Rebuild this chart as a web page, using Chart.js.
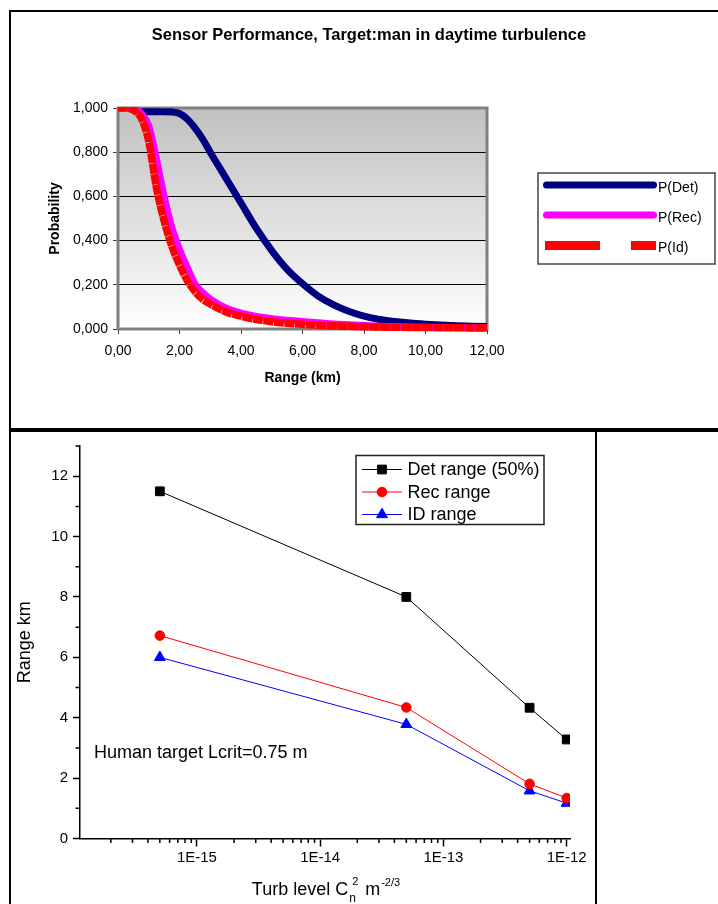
<!DOCTYPE html>
<html>
<head>
<meta charset="utf-8">
<script src="https://cdn.jsdelivr.net/npm/chart.js@4.4.1/dist/chart.umd.min.js"></script>
<style>
html,body{margin:0;padding:0;background:#fff;width:718px;height:904px;overflow:hidden;position:relative;}
#f1{position:absolute;left:9px;top:10px;width:720px;height:422px;border:2px solid #000;border-bottom-width:4px;box-sizing:border-box;}
#f2{position:absolute;left:9px;top:432px;width:588px;height:490px;border:2px solid #000;border-top:none;box-sizing:border-box;}
#c1{position:absolute;left:11px;top:12px;}
#c2{position:absolute;left:11px;top:432px;}
</style>
</head>
<body>
<div id="f1"></div>
<div id="f2"></div>
<canvas id="c1" width="707" height="416"></canvas>
<canvas id="c2" width="583" height="472"></canvas>
<script>
// ===== Top chart data =====
const rangeKm = [0,0.25,0.5,0.75,1,1.25,1.5,1.75,2,2.25,2.5,2.75,3,3.5,4,4.5,5,5.5,6,6.5,7,7.5,8,8.5,9,9.5,10,10.5,11,11.5,12];
const pDet = [null,null,null,0.983,0.983,0.983,0.983,0.982,0.975,0.95,0.91,0.86,0.80,0.685,0.57,0.455,0.355,0.27,0.205,0.15,0.11,0.08,0.058,0.043,0.034,0.027,0.022,0.018,0.015,0.013,0.011];
const pRec = [1.0,1.0,0.998,0.975,0.92,0.77,0.60,0.46,0.36,0.28,0.205,0.165,0.135,0.095,0.072,0.057,0.047,0.040,0.034,0.028,0.023,0.019,0.016,0.013,0.011,0.009,0.008,0.007,0.006,0.0055,0.005];
const pId = [1.0,1.0,0.99,0.955,0.85,0.64,0.49,0.375,0.29,0.22,0.17,0.135,0.113,0.078,0.058,0.043,0.033,0.026,0.021,0.017,0.014,0.012,0.010,0.009,0.008,0.007,0.0065,0.006,0.0055,0.005,0.005];
const probTicks = [0,0.2,0.4,0.6,0.8,1.0];
const rangeTicks = [0,2,4,6,8,10,12];

// ===== Bottom chart data =====
const turbLevel = [5e-16, 5e-14, 5e-13, 1e-12];
const detRange = [11.5, 8.0, 4.33, 3.28];
const recRange = [6.72, 4.34, 1.81, 1.34];
const idRange = [6.0, 3.78, 1.58, 1.17];
const xMajor = [1e-15, 1e-14, 1e-13, 1e-12];
const xMajorLabels = ['1E-15','1E-14','1E-13','1E-12'];
const yMajor = [0,2,4,6,8,10,12];
const yMinor = [1,3,5,7,9,11,13];

const FONT = '"Liberation Sans", Arial, Helvetica, sans-serif';
Chart.defaults.font.family = FONT;
Chart.defaults.color = '#000';

// ---------- Top chart ----------
const plotBg = {
  id: 'plotBg',
  beforeDraw(chart) {
    const {ctx, chartArea: a} = chart;
    const g = ctx.createLinearGradient(0, a.top, 0, a.bottom);
    g.addColorStop(0, '#c0c0c0');
    g.addColorStop(1, '#ffffff');
    ctx.save();
    ctx.fillStyle = g;
    ctx.fillRect(a.left, a.top, a.width, a.height);
    ctx.restore();
  },
  beforeDatasetsDraw(chart) {
    const {ctx, chartArea: a} = chart;
    ctx.save();
    ctx.strokeStyle = '#808080';
    ctx.lineWidth = 3;
    ctx.strokeRect(a.left, a.top, a.width, a.height);
    ctx.restore();
  }
};

const topLegend = {
  id: 'topLegend',
  afterDraw(chart) {
    const {ctx, chartArea: a} = chart;
    const bx = a.right + 51, by = a.top + 65, bw = 177, bh = 91;
    ctx.save();
    ctx.fillStyle = '#fff';
    ctx.fillRect(bx, by, bw, bh);
    ctx.strokeStyle = '#444';
    ctx.lineWidth = 1.5;
    ctx.strokeRect(bx, by, bw, bh);
    const rows = [12, 42, 72.5];
    chart.data.datasets.forEach((ds, i) => {
      const y = by + rows[i];
      ctx.strokeStyle = ds.borderColor;
      if (ds.borderDash && ds.borderDash.length) {
        ctx.lineWidth = 9;
        ctx.lineCap = 'butt';
        ctx.setLineDash([55, 31]);
        ctx.beginPath(); ctx.moveTo(bx + 7, y); ctx.lineTo(bx + 118, y); ctx.stroke();
        ctx.setLineDash([]);
      } else {
        ctx.lineWidth = 7;
        ctx.lineCap = 'round';
        ctx.beginPath(); ctx.moveTo(bx + 8.5, y); ctx.lineTo(bx + 115.5, y); ctx.stroke();
      }
      ctx.fillStyle = '#000';
      ctx.font = '14px ' + FONT;
      ctx.textAlign = 'left';
      ctx.textBaseline = 'middle';
      ctx.fillText(ds.label, bx + 120, y + 3);
    });
    ctx.restore();
  }
};

const toXY = (xs, ys) => xs.map((x, i) => ({x, y: ys[i]}));
const lineClip = {left: 1, top: 1, right: 1, bottom: 4};

new Chart(document.getElementById('c1'), {
  type: 'line',
  data: {
    datasets: [
      {label: 'P(Det)', data: toXY(rangeKm, pDet), borderColor: '#000080', borderWidth: 7, pointRadius: 0,
       cubicInterpolationMode: 'monotone', borderJoinStyle: 'round', order: 3, clip: lineClip},
      {label: 'P(Rec)', data: toXY(rangeKm, pRec), borderColor: '#ff00ff', borderWidth: 7, pointRadius: 0,
       cubicInterpolationMode: 'monotone', borderJoinStyle: 'round', order: 2, clip: lineClip},
      {label: 'P(Id)', data: toXY(rangeKm, pId), borderColor: '#ff0000', borderWidth: 7.5, pointRadius: 0,
       borderDash: [10, 0.6], cubicInterpolationMode: 'monotone', order: 1, clip: lineClip}
    ]
  },
  options: {
    responsive: false,
    animation: false,
    devicePixelRatio: 1,
    layout: {padding: {left: 9, right: 0, top: 0, bottom: 0}},
    plugins: {
      legend: {display: false},
      tooltip: {enabled: false},
      title: {
        display: true,
        text: 'Sensor Performance, Target:man in daytime turbulence',
        font: {size: 16.5, weight: 'bold'},
        color: '#000',
        padding: {top: 13.6, bottom: 62.6}
      }
    },
    scales: {
      x: {
        type: 'linear', min: 0, max: 12,
        afterBuildTicks: s => { s.ticks = rangeTicks.map(v => ({value: v})); },
        afterFit: s => { s.height = 99; },
        grid: {display: true, drawOnChartArea: false, tickLength: 5, tickColor: '#404040', tickWidth: 1},
        border: {display: false},
        ticks: {font: {size: 14}, color: '#000', padding: 9, maxRotation: 0, autoSkip: false,
                callback: v => Number(v).toFixed(2).replace('.', ',')},
        title: {display: true, text: 'Range (km)', font: {size: 14, weight: 'bold'}, color: '#000',
                padding: {top: 0, bottom: 41.6}}
      },
      y: {
        type: 'linear', min: 0, max: 1,
        afterBuildTicks: s => { s.ticks = probTicks.map(v => ({value: v})); },
        afterFit: s => { s.width = 98; },
        grid: {display: true, drawOnChartArea: true, tickLength: 5, tickColor: '#404040', lineWidth: 1,
               color: c => (c.tick && (c.tick.value === 0 || c.tick.value === 1)) ? 'rgba(0,0,0,0)' : '#000'},
        border: {display: false},
        ticks: {font: {size: 14}, color: '#000', padding: 5, autoSkip: false,
                callback: v => Number(v).toFixed(3).replace('.', ',')},
        title: {display: true, text: 'Probability', font: {size: 14, weight: 'bold'}, color: '#000',
                padding: {top: 26.6, bottom: 0}}
      },
      legendSpace: {
        type: 'linear', position: 'right', display: true,
        grid: {display: false}, ticks: {display: false}, border: {display: false},
        afterFit: s => { s.width = 231; }
      }
    }
  },
  plugins: [plotBg, topLegend]
});

// ---------- Bottom chart ----------
const X_MIN = 1.125e-16, X_MAX = 1.064e-12;
const isMajorX = v => xMajor.some(m => Math.abs(Math.log10(v) - Math.log10(m)) < 1e-6);
const xAllTicks = [];
for (let e = -16; e <= -12; e++) {
  for (let k = 1; k <= 9; k++) {
    const v = k * Math.pow(10, e);
    if (v >= X_MIN * 0.999 && v <= X_MAX * 1.001) xAllTicks.push(v);
  }
}
const xMinor = xAllTicks.filter(v => !isMajorX(v));

const minorTicks = {
  id: 'minorTicks',
  afterDraw(chart) {
    const {ctx, chartArea: a, scales: {x, y}} = chart;
    ctx.save();
    ctx.strokeStyle = '#000';
    ctx.lineWidth = 1.5;
    ctx.beginPath();
    xMinor.forEach(v => {
      const px = x.getPixelForValue(v);
      ctx.moveTo(px, a.bottom); ctx.lineTo(px, a.bottom + 4.5);
    });
    yMinor.forEach(v => {
      const py = y.getPixelForValue(v);
      ctx.moveTo(a.left, py); ctx.lineTo(a.left - 4.5, py);
    });
    ctx.stroke();
    ctx.restore();
  }
};

const bottomExtras = {
  id: 'bottomExtras',
  afterDraw(chart) {
    const {ctx, chartArea: a, scales: {y}} = chart;
    ctx.save();
    // annotation
    ctx.fillStyle = '#000';
    ctx.font = '18px ' + FONT;
    ctx.textAlign = 'left';
    ctx.textBaseline = 'middle';
    ctx.fillText('Human target Lcrit=0.75 m', a.left + 14, y.getPixelForValue(2.83));

    // legend
    const bx = a.left + 276, by = a.top + 9.5, bw = 188, bh = 69;
    ctx.strokeStyle = '#222';
    ctx.lineWidth = 1.5;
    ctx.strokeRect(bx, by, bw, bh);
    const rows = [14, 36.5, 59];
    chart.data.datasets.forEach((ds, i) => {
      const yy = by + rows[i];
      ctx.strokeStyle = ds.borderColor;
      ctx.lineWidth = 1;
      ctx.beginPath(); ctx.moveTo(bx + 6, yy); ctx.lineTo(bx + 46, yy); ctx.stroke();
      ctx.fillStyle = ds.backgroundColor;
      Chart.helpers.drawPoint(ctx, {pointStyle: ds.pointStyle, rotation: 0, radius: ds.pointRadius, borderWidth: 1}, bx + 26, yy);
      ctx.fillStyle = '#000';
      ctx.font = '18px ' + FONT;
      ctx.textAlign = 'left';
      ctx.textBaseline = 'middle';
      ctx.fillText(ds.label, bx + 51.5, yy + 1);
    });

    // x axis title with sub/superscripts
    const base = 463;
    const f18 = '18px ' + FONT, f12 = '12px ' + FONT, f11 = '11px ' + FONT;
    ctx.textBaseline = 'alphabetic';
    ctx.font = f18; const wMain = ctx.measureText('Turb level C').width; const wM = ctx.measureText('m').width;
    ctx.font = f11; const wSup = ctx.measureText('-2/3').width;
    const total = wMain + 1 + 14 + wM + 1 + wSup;
    let x0 = (a.left + a.right) / 2 - total / 2;
    ctx.font = f18; ctx.fillText('Turb level C', x0, base);
    let x1 = x0 + wMain + 1;
    ctx.font = f12; ctx.fillText('n', x1, base + 6.5);
    ctx.font = f11; ctx.fillText('2', x1 + 3, base - 10);
    let x2 = x1 + 16;
    ctx.font = f18; ctx.fillText('m', x2, base);
    ctx.font = f11; ctx.fillText('-2/3', x2 + wM + 1, base - 9);
    ctx.restore();
  }
};

new Chart(document.getElementById('c2'), {
  type: 'line',
  data: {
    datasets: [
      {label: 'Det range (50%)', data: toXY(turbLevel, detRange), borderColor: '#000', backgroundColor: '#000',
       borderWidth: 1, pointStyle: 'rect', pointRadius: 6.2, pointBorderWidth: 1, tension: 0},
      {label: 'Rec range', data: toXY(turbLevel, recRange), borderColor: '#ff0000', backgroundColor: '#ff0000',
       borderWidth: 1, pointStyle: 'circle', pointRadius: 4.8, pointBorderWidth: 1, tension: 0},
      {label: 'ID range', data: toXY(turbLevel, idRange), borderColor: '#0000ff', backgroundColor: '#0000ff',
       borderWidth: 1, pointStyle: 'triangle', pointRadius: 6.3, pointBorderWidth: 1, tension: 0}
    ]
  },
  options: {
    responsive: false,
    animation: false,
    devicePixelRatio: 1,
    layout: {padding: {left: 0, right: 24, top: 10.5, bottom: 0}},
    plugins: {legend: {display: false}, tooltip: {enabled: false}, title: {display: false}},
    scales: {
      x: {
        type: 'logarithmic', min: X_MIN, max: X_MAX, position: 'bottom',
        afterBuildTicks: s => { s.ticks = xAllTicks.map(v => ({value: v})); },
        afterFit: s => { s.height = 65.5; },
        grid: {display: true, drawOnChartArea: false, tickLength: 8, tickWidth: 1.5,
               tickColor: c => (c.tick && isMajorX(c.tick.value)) ? '#000' : 'rgba(0,0,0,0)'},
        border: {display: true, color: '#000', width: 1.5},
        ticks: {font: {size: 15}, color: '#000', padding: 2, maxRotation: 0, autoSkip: false,
                callback: v => { const i = xMajor.findIndex(m => Math.abs(Math.log10(v) - Math.log10(m)) < 1e-6); return i >= 0 ? xMajorLabels[i] : ''; }}
      },
      y: {
        type: 'linear', min: 0, max: 13,
        afterBuildTicks: s => { s.ticks = yMajor.map(v => ({value: v})); },
        afterFit: s => { s.width = 69; },
        grid: {display: true, drawOnChartArea: false, tickLength: 7, tickWidth: 1.5, tickColor: '#000'},
        border: {display: true, color: '#000', width: 1.5},
        ticks: {font: {size: 15}, color: '#000', padding: 5, autoSkip: false, callback: v => String(v)},
        title: {display: true, text: 'Range km', font: {size: 18}, color: '#000', padding: {top: 3.7, bottom: 0}}
      }
    }
  },
  plugins: [minorTicks, bottomExtras]
});
</script>
</body>
</html>
